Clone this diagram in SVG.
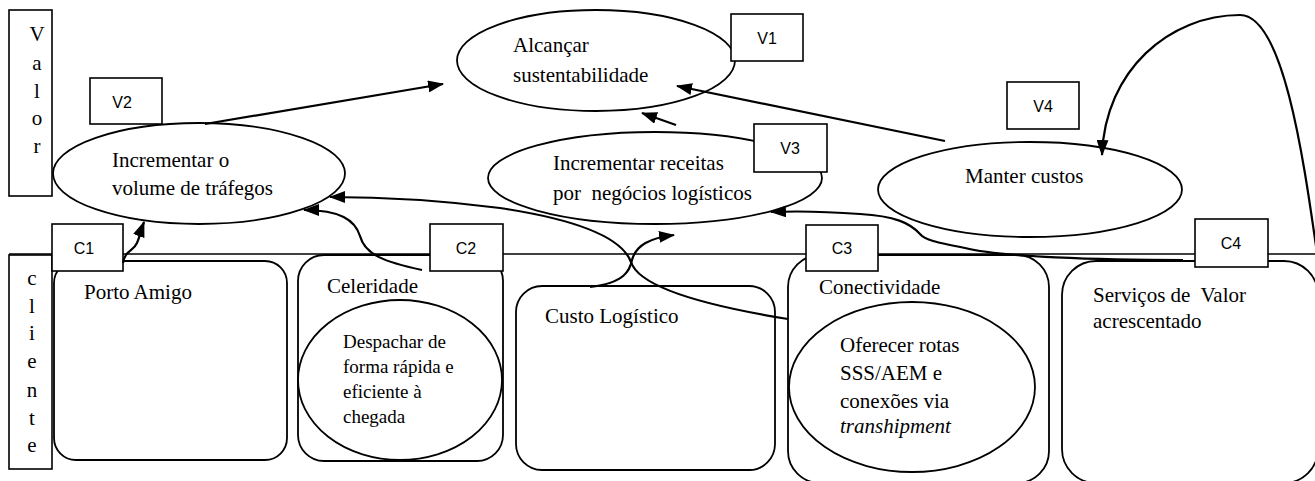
<svg xmlns="http://www.w3.org/2000/svg" width="1315" height="481" viewBox="0 0 1315 481">
  <style>
    .serif { font-family: "Liberation Serif", "Times New Roman", serif; font-size: 21px; fill: #000; }
    .small { font-size: 19px; }
    .tag { font-family: "Liberation Sans", Arial, sans-serif; font-size: 16px; fill: #000; text-anchor: middle; }
    .mid { text-anchor: middle; }
    .box { fill: #fff; stroke: #000; stroke-width: 1.6; }
    .shape { fill: none; stroke: #000; stroke-width: 1.8; }
    .oval { fill: #fff; stroke: #000; stroke-width: 1.8; }
    .link { fill: none; stroke: #000; stroke-width: 2.2; marker-end: url(#head); }
    .rule { stroke: #000; stroke-width: 1.6; }
  </style>
  <defs>
    <marker id="head" markerUnits="userSpaceOnUse" viewBox="0 0 16 12" markerWidth="16" markerHeight="12" refX="15" refY="6" orient="auto">
      <path d="M0,0 L16,6 L0,12 z" fill="#000"/>
    </marker>
  </defs>

  <rect width="1315" height="481" fill="#fff"/>

  <!-- perspective labels -->
  <g id="lane-valor">
    <rect class="box" x="9" y="10" width="43" height="186"/>
    <text class="serif mid" x="37" y="41">V</text>
    <text class="serif mid" x="37" y="70">a</text>
    <text class="serif mid" x="37" y="98">l</text>
    <text class="serif mid" x="37" y="125">o</text>
    <text class="serif mid" x="37" y="153">r</text>
  </g>
  <g id="lane-cliente">
    <rect class="box" x="9" y="255" width="43" height="214"/>
    <text class="serif mid" x="32" y="285">c</text>
    <text class="serif mid" x="32" y="313">l</text>
    <text class="serif mid" x="32" y="340">i</text>
    <text class="serif mid" x="32" y="368">e</text>
    <text class="serif mid" x="32" y="397">n</text>
    <text class="serif mid" x="32" y="425">t</text>
    <text class="serif mid" x="32" y="452">e</text>
  </g>

  <!-- customer perspective -->
  <g id="porto-amigo">
    <rect class="shape" x="54" y="261" width="233" height="199" rx="22"/>
    <text class="serif" x="84" y="299">Porto Amigo</text>
  </g>
  <g id="celeridade">
    <rect class="shape" x="298" y="255" width="205" height="206" rx="26"/>
    <text class="serif" x="327" y="293">Celeridade</text>
    <ellipse class="shape" cx="400" cy="380" rx="102" ry="80"/>
    <text class="serif small" x="343" y="348">Despachar de</text>
    <text class="serif small" x="343" y="373">forma rápida e</text>
    <text class="serif small" x="343" y="398">eficiente à</text>
    <text class="serif small" x="343" y="423">chegada</text>
  </g>
  <g id="custo-logistico">
    <rect class="shape" x="516" y="286" width="259" height="184" rx="26"/>
    <text class="serif" x="545" y="323">Custo Logístico</text>
  </g>
  <g id="conectividade">
    <rect class="shape" x="788" y="255" width="261" height="228" rx="32"/>
    <text class="serif" x="819" y="294">Conectividade</text>
    <ellipse class="shape" cx="912" cy="387" rx="123" ry="85"/>
    <text class="serif" x="840" y="352">Oferecer rotas</text>
    <text class="serif" x="840" y="380">SSS/AEM e</text>
    <text class="serif" x="840" y="408">conexões via</text>
    <text class="serif" x="840" y="433" font-style="italic">transhipment</text>
  </g>
  <g id="servicos">
    <rect class="shape" x="1062" y="261" width="256" height="222" rx="34"/>
    <text class="serif" x="1093" y="302" xml:space="preserve">Serviços de  Valor</text>
    <text class="serif" x="1093" y="328">acrescentado</text>
  </g>

  <!-- boundary between perspectives -->
  <line class="rule" x1="9" y1="254" x2="1315" y2="254"/>

  <!-- value perspective -->
  <g id="v2">
    <ellipse class="oval" cx="199" cy="173.5" rx="146" ry="50.5"/>
    <text class="serif" x="112" y="167">Incrementar o</text>
    <text class="serif" x="112" y="195">volume de tráfegos</text>
    <rect class="box" x="90" y="78" width="72" height="46"/>
    <text class="tag" x="122" y="108">V2</text>
  </g>
  <g id="v1">
    <ellipse class="oval" cx="596" cy="60.5" rx="139" ry="50.5"/>
    <text class="serif" x="513" y="52">Alcançar</text>
    <text class="serif" x="513" y="82">sustentabilidade</text>
    <rect class="box" x="731" y="14" width="72" height="47"/>
    <text class="tag" x="767" y="44">V1</text>
  </g>
  <g id="v3">
    <ellipse class="oval" cx="655" cy="178" rx="167" ry="46"/>
    <text class="serif" x="553" y="170">Incrementar receitas</text>
    <text class="serif" x="553" y="200" xml:space="preserve">por  negócios logísticos</text>
    <rect class="box" x="754" y="124" width="73" height="48"/>
    <text class="tag" x="790" y="154">V3</text>
  </g>
  <g id="v4">
    <ellipse class="oval" cx="1030" cy="189.5" rx="152" ry="47.5"/>
    <text class="serif" x="965" y="183">Manter custos</text>
    <rect class="box" x="1007" y="82" width="72" height="47"/>
    <text class="tag" x="1043" y="112">V4</text>
  </g>

  <!-- tags on the boundary -->
  <g id="c1">
    <rect class="box" x="52" y="224" width="71" height="47"/>
    <text class="tag" x="84" y="254">C1</text>
  </g>
  <g id="c2">
    <rect class="box" x="430" y="224" width="73" height="47"/>
    <text class="tag" x="466" y="254">C2</text>
  </g>
  <g id="c3">
    <rect class="box" x="806" y="225" width="72" height="46"/>
    <text class="tag" x="842" y="254">C3</text>
  </g>
  <g id="c4">
    <rect class="box" x="1195" y="219" width="73" height="48"/>
    <text class="tag" x="1231" y="249">C4</text>
  </g>

  <!-- cause and effect links -->
  <g id="connectors">
    <path class="link" d="M205,124 L443,84"/>
    <path class="link" d="M945,141 L677,86"/>
    <path class="link" d="M676,125 L642,113"/>
    <path class="link" d="M1318,260 C1305,170 1285,15 1240,15 C1170,15 1105,70 1102,155"/>
    <path class="link" d="M123,263 C125,250 133,252 137,243 C140,236 141,230 144,222"/>
    <path class="link" d="M422,270 C385,262 365,255 360,236 C355,220 340,210 304,210"/>
    <path class="link" d="M788,319 C720,308 640,290 631,262 C622,238 580,220 500,208 C430,199 380,197 330,197"/>
    <path class="link" d="M590,287 C625,283 630,270 632,260 C636,245 650,238 674,235"/>
    <path class="link" d="M1183,260 C1100,260 1000,257 965,248 C935,242 925,240 920,234 C910,223 895,216 860,214 C820,211 795,211 771,212"/>
  </g>
</svg>
